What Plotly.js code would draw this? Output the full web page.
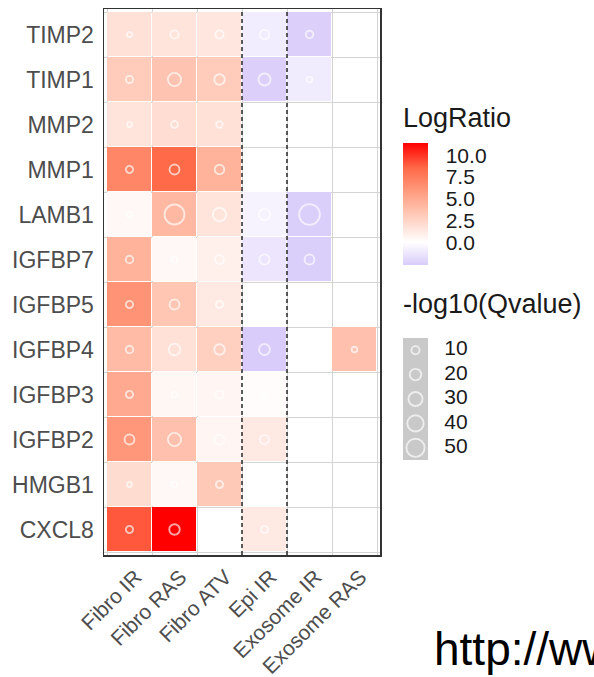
<!DOCTYPE html>
<html>
<head>
<meta charset="utf-8">
<script src="https://cdn.plot.ly/plotly-3.0.1.min.js"></script>
<style>html,body{margin:0;padding:0;background:#fff;}#chart{width:594px;height:677px;}</style>
</head>
<body>
<div id="chart"></div>
<script>
// Categories
var genes = ["TIMP2","TIMP1","MMP2","MMP1","LAMB1","IGFBP7","IGFBP5","IGFBP4","IGFBP3","IGFBP2","HMGB1","CXCL8"];
var groups = ["Fibro IR","Fibro RAS","Fibro ATV","Epi IR","Exosome IR","Exosome RAS"];

// LogRatio per gene (rows) x group (columns)
var logRatio = [
  [1.8, 1.6, 1.4, -0.9, -2.4, null],
  [3.0, 3.5, 3.0, -2.4, -1.0, null],
  [1.6, 2.0, 1.8, null, null, null],
  [7.0, 8.5, 4.5, null, null, null],
  [0.4, 4.2, 1.6, -0.6, -2.5, null],
  [4.5, 0.4, 0.9, -1.3, -2.5, null],
  [6.3, 3.4, 1.3, null, null, null],
  [4.0, 1.8, 2.8, -2.6, null, 3.7],
  [5.0, 0.5, 0.6, 0.2, null, null],
  [6.0, 3.7, 0.6, 1.3, null, null],
  [2.1, 0.4, 3.2, null, null, null],
  [9.0, 11.4, null, 1.3, null, null]
];

// -log10(Qvalue) per gene x group
var negLogQ = [
  [4, 10, 10, 13, 8.5, null],
  [8, 26, 16.5, 22, 5, null],
  [3.5, 7, 6.3, null, null, null],
  [7.7, 14.6, 13.6, null, null, null],
  [5, 60, 27, 19, 65, null],
  [8.5, 5, 11.7, 15.5, 14.6, null],
  [7.7, 14.6, 7.7, null, null, null],
  [8.4, 20, 16.6, 17.7, null, 4.5],
  [7.7, 5, 10, 4, null, null],
  [14.6, 26, 15, 12.6, null, null],
  [3.5, 5, 7.7, null, null, null],
  [7.7, 16.5, null, 7.7, null, null]
];

// Legend breaks
var colorTicks = [0, 2.5, 5, 7.5, 10];
var colorTickText = ["0.0", "2.5", "5.0", "7.5", "10.0"];
var sizeBreaks = [10, 20, 30, 40, 50];
var sizeBreakText = ["10", "20", "30", "40", "50"];

var FONT = "Liberation Sans, Arial, Helvetica, sans-serif";
var zmin = -2.6, zmax = 11.4;
function frac(z){ return (z - zmin) / (zmax - zmin); }
var colorscale = [
  [0, "#d9ccfa"],
  [frac(-1.3), "#ece5fd"],
  [frac(0), "#ffffff"],
  [frac(1.425), "#ffe7df"],
  [frac(2.85), "#ffcfbf"],
  [frac(5.7), "#ff9e81"],
  [frac(8.55), "#ff6948"],
  [1, "#ff0000"]
];
function sizeOf(v){ return 2.56 * Math.sqrt(v) + 0.1; }

var xIdx = groups.map(function(_, i){ return i; });
var yIdx = genes.map(function(_, i){ return i; });

var cx = [], cy = [], cs = [];
for (var i = 0; i < genes.length; i++) {
  for (var j = 0; j < groups.length; j++) {
    if (negLogQ[i][j] !== null) { cx.push(j); cy.push(i); cs.push(sizeOf(negLogQ[i][j])); }
  }
}

var L = 104, T = 9, PW = 490, PH = 546;
function px2x(p){ return (p - L) / PW; }
function px2y(p){ return (T + PH - p) / PH; }

var traces = [
  {
    type: "heatmap", x: xIdx, y: yIdx, z: logRatio,
    zmin: zmin, zmax: zmax, colorscale: colorscale,
    xgap: 1, ygap: 1, hoverinfo: "skip",
    colorbar: {
      x: px2x(403), xanchor: "left", xpad: 0,
      y: px2y(204), yanchor: "middle", ypad: 0,
      len: 122, lenmode: "pixels", thickness: 25,
      outlinewidth: 0,
      tickvals: colorTicks, ticktext: colorTickText,
      ticks: "outside", ticklen: 14, tickcolor: "rgba(0,0,0,0)",
      tickfont: {family: FONT, size: 21, color: "#1a1a1a"},
      title: {text: ""}
    }
  },
  {
    type: "scatter", mode: "markers", x: cx, y: cy, hoverinfo: "skip",
    marker: {symbol: "circle-open", size: cs, color: "rgba(255,255,255,0.92)", line: {width: 1.9}},
    showlegend: false
  },
  {
    type: "scatter", mode: "markers", xaxis: "x2", yaxis: "y2",
    x: sizeBreaks.map(function(){ return 0.5; }),
    y: sizeBreaks.map(function(_, k){ return k + 1; }),
    marker: {symbol: "circle-open", size: sizeBreaks.map(sizeOf), color: "rgba(255,255,255,0.95)", line: {width: 1.9}},
    hoverinfo: "skip", showlegend: false
  },
  {
    type: "scatter", mode: "text", xaxis: "x2", yaxis: "y2",
    x: sizeBreaks.map(function(){ return 1.65; }),
    y: sizeBreaks.map(function(_, k){ return k + 1; }),
    text: sizeBreakText, textposition: "middle right",
    textfont: {family: FONT, size: 21, color: "#1a1a1a"},
    cliponaxis: false, hoverinfo: "skip", showlegend: false
  }
];

var boundsX = [-0.5, 0.5, 1.5, 2.5, 3.5, 4.5, 5.5];
var boundsY = [-0.5, 0.5, 1.5, 2.5, 3.5, 4.5, 5.5, 6.5, 7.5, 8.5, 9.5, 10.5, 11.5];
var pad = 3 / 45;

var layout = {
  width: 594, height: 677,
  margin: {l: L, r: 0, t: T, b: 677 - T - PH},
  paper_bgcolor: "#ffffff", plot_bgcolor: "rgba(0,0,0,0)",
  showlegend: false,
  font: {family: FONT, color: "#4d4d4d"},
  xaxis: {
    domain: [0, 276 / PW], range: [-0.5 - pad, 5.5 + pad],
    tickmode: "array", tickvals: xIdx, ticktext: groups, tickangle: -45,
    tickfont: {family: FONT, size: 21, color: "#4d4d4d"},
    ticklabelshift: 6, ticklabelstandoff: 0,
    showgrid: false, zeroline: false, ticks: "",
    showline: true, mirror: true, linecolor: "#333333", linewidth: 1.5,
    minor: {tickmode: "array", tickvals: boundsX, showgrid: true, gridcolor: "#d4d4d4", gridwidth: 1, ticks: ""},
    fixedrange: true
  },
  yaxis: {
    domain: [0, 1], range: [11.5 + pad, -0.5 - pad],
    tickmode: "array", tickvals: yIdx, ticktext: genes,
    tickfont: {family: FONT, size: 23, color: "#4d4d4d"},
    ticklabelstandoff: 4,
    showgrid: false, zeroline: false, ticks: "",
    showline: true, mirror: true, linecolor: "#333333", linewidth: 1.5,
    minor: {tickmode: "array", tickvals: boundsY, showgrid: true, gridcolor: "#d4d4d4", gridwidth: 1, ticks: ""},
    fixedrange: true
  },
  xaxis2: {
    domain: [px2x(403), px2x(503)], range: [0, 4], anchor: "y2",
    visible: false, fixedrange: true
  },
  yaxis2: {
    domain: [px2y(460), px2y(338)], range: [5.5, 0.5], anchor: "x2",
    visible: false, fixedrange: true
  },
  shapes: [
    {type: "rect", xref: "x2", yref: "y2 domain", x0: 0, x1: 1, y0: 0, y1: 1,
     fillcolor: "#c9c9c9", line: {width: 0}, layer: "below"},
    {type: "line", xref: "x", yref: "paper", x0: 2.5, x1: 2.5, y0: 0, y1: 1,
     line: {color: "#333333", width: 1.6, dash: "4px,3px"}},
    {type: "line", xref: "x", yref: "paper", x0: 3.5, x1: 3.5, y0: 0, y1: 1,
     line: {color: "#333333", width: 1.6, dash: "4px,3px"}}
  ],
  annotations: [
    {text: "LogRatio", xref: "paper", yref: "paper", x: px2x(401), y: px2y(118),
     xanchor: "left", yanchor: "middle", showarrow: false,
     font: {family: FONT, size: 27, color: "#1a1a1a"}},
    {text: "-log10(Qvalue)", xref: "paper", yref: "paper", x: px2x(401), y: px2y(304),
     xanchor: "left", yanchor: "middle", showarrow: false,
     font: {family: FONT, size: 27, color: "#1a1a1a"}},
    {text: "http://www", xref: "paper", yref: "paper", x: px2x(432), y: px2y(649),
     xanchor: "left", yanchor: "middle", showarrow: false,
     font: {family: FONT, size: 46, color: "#000000"}}
  ]
};

Plotly.newPlot("chart", traces, layout, {displayModeBar: false, staticPlot: true});
</script>
</body>
</html>
